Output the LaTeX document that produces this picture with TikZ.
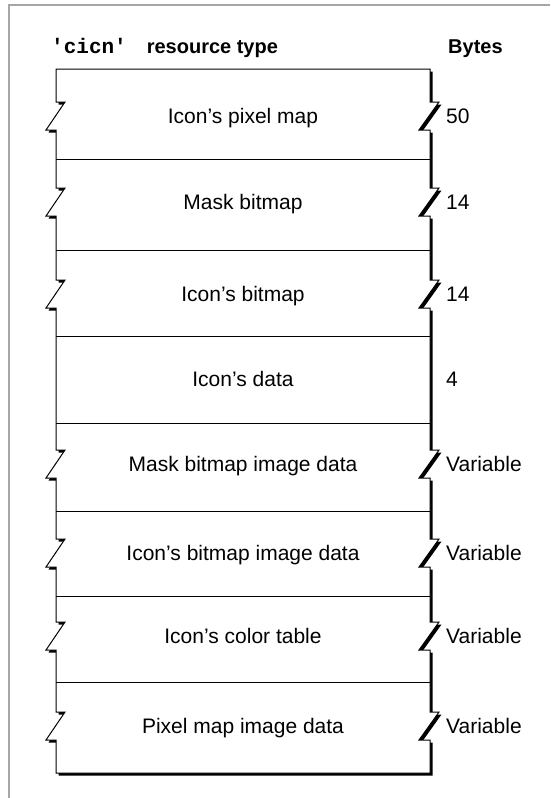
\documentclass[tikz,border=0pt]{standalone}
\usepackage{fontspec}
\setmainfont{Liberation Sans}
\newfontfamily\monofont[Ligatures=TeXOff]{Liberation Mono}

\begin{document}
\begin{tikzpicture}[x=1pt, y=-1pt,
    rowtext/.style={anchor=base, inner sep=0pt, font=\fontsize{21}{25}\selectfont},
    bytetext/.style={anchor=base west, inner sep=0pt, font=\fontsize{21}{25}\selectfont},
    headtext/.style={anchor=base west, inner sep=0pt, font=\bfseries\fontsize{20}{24}\selectfont},
    % outline of the record, with the cut marks on both sides
    cicnoutline/.style={insert path={(56,69)
        \foreach \c in {116,202,294,464,553,636,726} {-- (56,\c-14) -- (65,\c-14) -- (46,\c+14) -- (56,\c+14)}
        -- (56,773) -- (430,773)
        \foreach \c in {726,636,553,464,294,202,116} {-- (430,\c+14) -- (419,\c+14) -- (439,\c-14) -- (430,\c-14)}
        -- (430,69) -- cycle}}]

  \useasboundingbox (0,0) rectangle (550,798);

  % Page frame (top and left)
  \draw[black!35, line width=1.5pt] (9,798) -- (9,5) -- (550,5);

  % Headings
  \node[headtext] (restype) at (51,53) {{\monofont\fontsize{21}{24}\selectfont 'cicn'}\hspace{20pt}resource type};
  \node[headtext] (bytes) at (448,53) {Bytes};

  % Shadow, then the record itself
  \path[fill=black, shift={(2.5,2.5)}, cicnoutline];
  \draw[fill=white, line width=1pt, line join=miter, cicnoutline];

  % Field separators
  \foreach \s in {159,250,336,423,511,596,682} {
    \draw[line width=0.9pt] (56,\s) -- (430,\s);
  }

  % Fields and sizes
  \foreach \c/\field/\size [count=\i] in {
      116/Icon’s pixel map/50,
      202/Mask bitmap/14,
      294/Icon’s bitmap/14,
      379/Icon’s data/4,
      464/Mask bitmap image data/Variable,
      553/Icon’s bitmap image data/Variable,
      636/Icon’s color table/Variable,
      726/Pixel map image data/Variable} {
    \node[rowtext] (field\i) at (243,\c+7.5) {\field};
    \node[bytetext] (size\i) at (446,\c+7.5) {\size};
  }
\end{tikzpicture}
\end{document}
